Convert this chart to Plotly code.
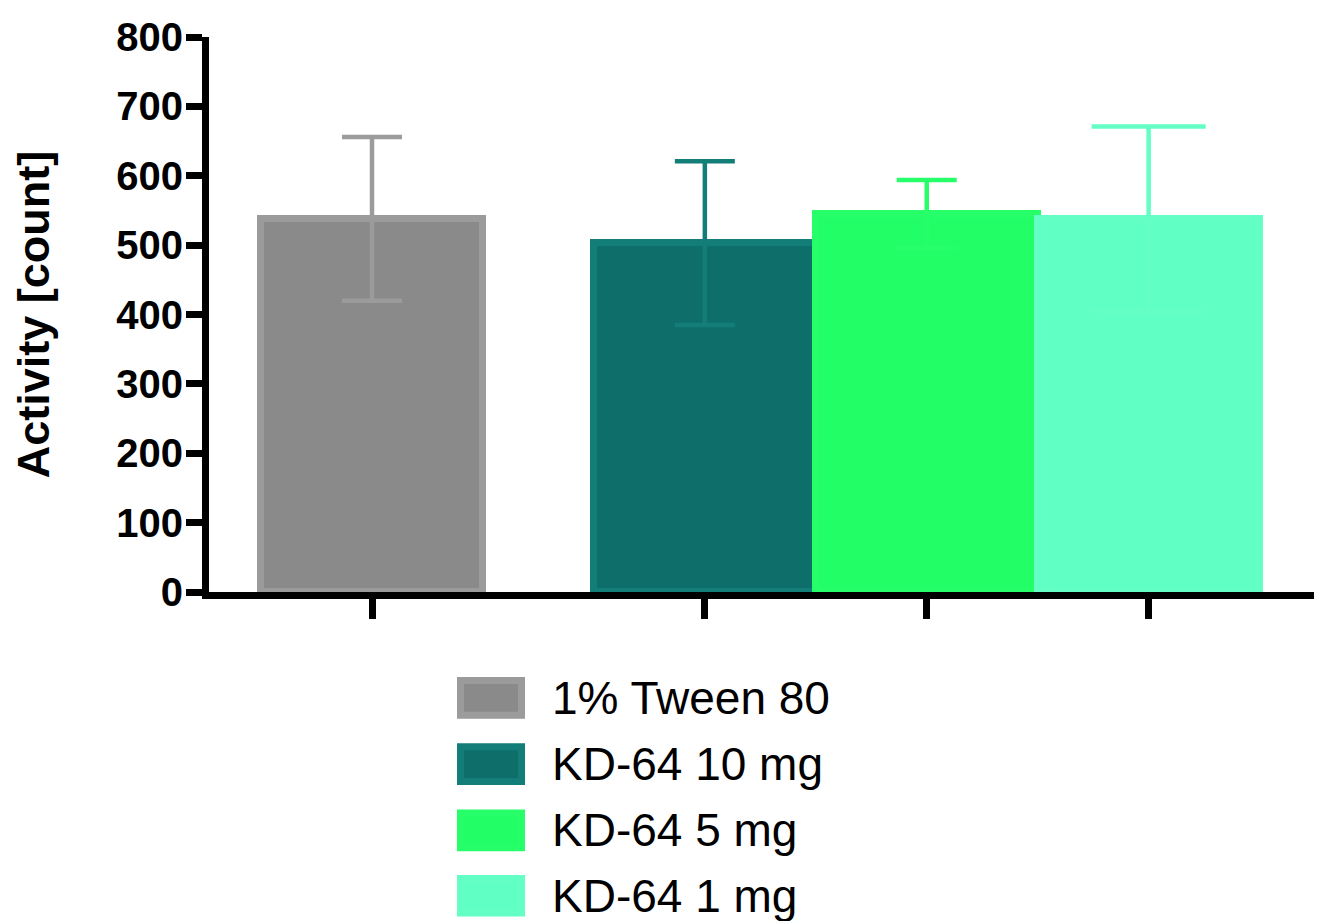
import plotly.graph_objects as go

# ---- data ----
groups = ["1% Tween 80", "KD-64 10 mg", "KD-64 5 mg", "KD-64 1 mg"]
means = [538, 503, 545, 538]
errors = [118, 118, 49, 133]
y_ticks = [0, 100, 200, 300, 400, 500, 600, 700, 800]

# ---- styling / layout constants ----
x_pos = [0, 1.5, 2.5, 3.5]
fills = ["#8a8a8a", "#0e6e69", "#22ff66", "#60ffc3"]
edges = ["#9b9b9b", "#137d78", "#26ff69", "#63ffc5"]
cap_half = [30, 30, 30, 57]
FONT = "Liberation Sans, Arial, Helvetica, sans-serif"

OFF = 8  # page body margin
W, H = 1322 - OFF, 921 - OFF
L, R, T = 209 - OFF, 7, 31 - OFF
plot_h = 561
B = H - T - plot_h
plot_w = W - L - R
unit = 221.9
x_left = (209 - 372) / unit
x_right = (1315 - 372) / unit

fig = go.Figure()
for i, name in enumerate(groups):
    fig.add_trace(go.Bar(
        x=[x_pos[i]], y=[means[i]], width=1.0, name=name,
        marker=dict(color=fills[i], line=dict(color=edges[i], width=7)),
        error_y=dict(type="data", array=[errors[i]], symmetric=True,
                     color=edges[i], thickness=4.5, width=cap_half[i]),
        showlegend=False,
    ))

# custom legend drawn below the plot (page pixel -> paper coords)
def px_to_paper_x(px):
    return (px - OFF - L) / plot_w

def px_to_paper_y(py):
    return (T + plot_h - (py - OFF)) / plot_h

sw_x0, sw_x1 = 457, 525
row_top = [678, 745, 812, 878]
sw_h = 42
text_x = 550
shapes = []
annotations = []
for i, name in enumerate(groups):
    y0 = row_top[i]
    shapes.append(dict(
        type="rect", xref="paper", yref="paper",
        x0=px_to_paper_x(sw_x0 + 3.5), x1=px_to_paper_x(sw_x1 - 3.5),
        y0=px_to_paper_y(y0 + 3.5), y1=px_to_paper_y(y0 + sw_h - 3.5),
        fillcolor=fills[i], line=dict(color=edges[i], width=7),
    ))
    annotations.append(dict(
        x=px_to_paper_x(text_x), y=px_to_paper_y(y0 + sw_h / 2),
        xref="paper", yref="paper", xanchor="left", yanchor="middle",
        text=name, showarrow=False,
        font=dict(family=FONT, size=46, color="#000000"),
    ))

fig.update_layout(
    width=W, height=H,
    margin=dict(l=L, r=R, t=T, b=B, pad=0),
    paper_bgcolor="white", plot_bgcolor="white",
    barmode="overlay", bargap=0,
    shapes=shapes, annotations=annotations,
    xaxis=dict(
        range=[x_left, x_right], tickmode="array", tickvals=x_pos,
        showticklabels=False, ticks="outside", ticklen=20, tickwidth=7,
        tickcolor="black", showline=True, linecolor="black", linewidth=7,
        showgrid=False, zeroline=False,
    ),
    yaxis=dict(
        range=[0, 800], tickmode="array", tickvals=y_ticks,
        ticks="outside", ticklen=16, tickwidth=7, tickcolor="black",
        showline=True, linecolor="black", linewidth=7,
        showgrid=False, zeroline=False, ticklabelstandoff=-5,
        tickfont=dict(family=FONT, size=40, color="black", weight="bold"),
        title=dict(text="<b>Activity [count]</b>", standoff=70,
                   font=dict(family=FONT, size=45, color="black")),
    ),
)

fig.write_html("out.html")
